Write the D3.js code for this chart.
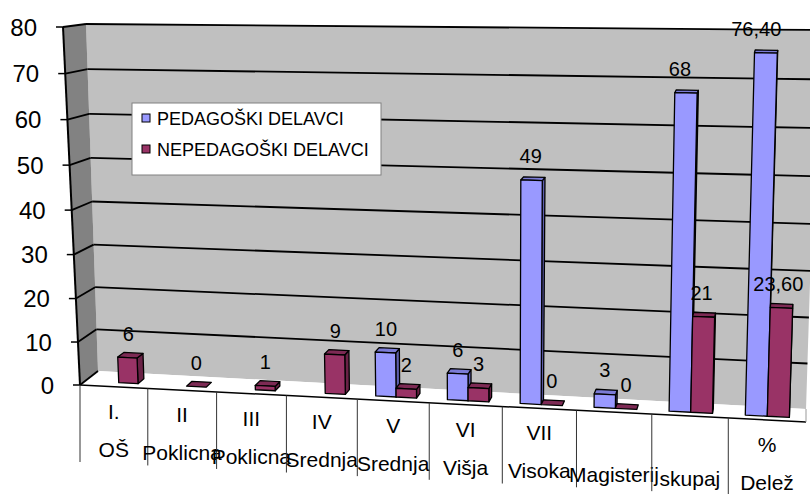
<!DOCTYPE html>
<html>
<head>
<meta charset="utf-8">
<script src="https://cdn.jsdelivr.net/npm/d3@7"></script>
<style>
  body { margin: 0; background: #fff; }
  text { font-family: "Liberation Sans", Arial, sans-serif; fill: #000; }
</style>
</head>
<body>
<svg id="chart" width="810" height="494"></svg>
<script>
const categoriesTop = ["I.", "II", "III", "IV", "V", "VI", "VII", "", "", "%"];
const categoriesBottom = ["OŠ", "Poklicna", "Poklicna", "Srednja", "Srednja", "Višja", "Visoka", "Magisterij", "skupaj", "Delež"];
const seriesNames = ["PEDAGOŠKI DELAVCI", "NEPEDAGOŠKI DELAVCI"];
const pedagoski = [null, null, null, null, 10, 6, 49, 3, 68, 76.4];
const nepedagoski = [6, 0, 1, 9, 2, 3, 0, 0, 21, 23.6];
const yTicks = [0, 10, 20, 30, 40, 50, 60, 70, 80];

const svg = d3.select("#chart");

// corners of the 3d box on screen (front/back, left/right, bottom/top)
const FLB = [80, 385], FLT = [63, 27], FRB = [806, 422], FRT = [818, 38];
const BLB = [98, 371], BLT = [86, 24], BRB = [806, 409], BRT = [818, 30];

const x = d3.scaleBand().domain(d3.range(categoriesBottom.length)).range([0, 1]);
const xInner = d3.scaleBand().domain(seriesNames).range([0, x.bandwidth()]).paddingOuter(0.75);
const y = d3.scaleLinear().domain([0, 80]).range([0, 1]);

// a bit of perspective foreshortening
const persp = k => t => (1 + k) * t / (1 + k * t);
const px = persp(-0.073), py = persp(-0.045);
const lerp = (p, q, k) => [p[0] + (q[0] - p[0]) * k, p[1] + (q[1] - p[1]) * k];

function proj(u, v, z) {
  const s = px(u), t = py(y(v));
  const front = lerp(lerp(FLB, FRB, s), lerp(FLT, FRT, s), t);
  const back = lerp(lerp(BLB, BRB, s), lerp(BLT, BRT, s), t);
  return lerp(front, back, z);
}
const pts = arr => arr.map(p => p.join(",")).join(" ");

// walls and floor
svg.append("polygon")
  .attr("points", pts([proj(0, 0, 1), proj(0, 80, 1), proj(1, 80, 1), proj(1, 0, 1)]))
  .attr("fill", "#C0C0C0");
svg.append("polygon")
  .attr("points", pts([proj(0, 0, 0), proj(0, 80, 0), proj(0, 80, 1), proj(0, 0, 1)]))
  .attr("fill", "#828282");
svg.append("polygon")
  .attr("points", pts([proj(0, 0, 0), proj(1, 0, 0), proj(1, 0, 1), proj(0, 0, 1)]))
  .attr("fill", "#fff");

// gridlines
const grid = svg.append("g").attr("stroke", "#000").attr("stroke-width", 1.8);
yTicks.forEach(v => {
  const a = proj(0, v, 0), b = proj(0, v, 1), c = proj(1, v, 1);
  grid.append("line").attr("x1", a[0]).attr("y1", a[1]).attr("x2", b[0]).attr("y2", b[1]);
  if (v > 0) grid.append("line").attr("x1", b[0]).attr("y1", b[1]).attr("x2", c[0]).attr("y2", c[1]);
});

// floor edges
const f0 = proj(0, 0, 0), f1 = proj(1, 0, 0), f2 = proj(1, 0, 1);
svg.append("line").attr("x1", f0[0]).attr("y1", f0[1]).attr("x2", f1[0]).attr("y2", f1[1])
  .attr("stroke", "#000").attr("stroke-width", 1.5);
svg.append("line").attr("x1", f1[0]).attr("y1", f1[1]).attr("x2", f2[0]).attr("y2", f2[1])
  .attr("stroke", "#999").attr("stroke-width", 1);

// value axis
const a0 = proj(0, 0, 0), a1 = proj(0, 80, 0);
svg.append("line").attr("x1", a0[0]).attr("y1", a0[1]).attr("x2", a1[0]).attr("y2", a1[1])
  .attr("stroke", "#000").attr("stroke-width", 2);
yTicks.forEach(v => {
  const p = proj(0, v, 0);
  svg.append("line").attr("x1", p[0] - 7).attr("y1", p[1]).attr("x2", p[0]).attr("y2", p[1])
    .attr("stroke", "#000").attr("stroke-width", 1.5);
  svg.append("text").attr("x", p[0] - 26).attr("y", p[1] + 8.5)
    .attr("text-anchor", "end").attr("font-size", 24).text(v);
});

// category table
x.domain().forEach(i => {
  const b = proj(x(i), 0, 0);
  svg.append("line").attr("x1", b[0]).attr("y1", b[1]).attr("x2", b[0]).attr("y2", b[1] + 77)
    .attr("stroke", "#333").attr("stroke-width", 1);
  const c = proj(x(i) + x.bandwidth() / 2, 0, 0);
  svg.append("text").attr("x", c[0]).attr("y", c[1] + 32)
    .attr("text-anchor", "middle").attr("font-size", 21).text(categoriesTop[i]);
  svg.append("text").attr("x", c[0]).attr("y", c[1] + 70)
    .attr("text-anchor", "middle").attr("font-size", 21).text(categoriesBottom[i]);
});

// bars
const series = [
  { name: seriesNames[0], values: pedagoski, front: "#9999FF", top: "#7B7BD6", side: "#5E5EAE" },
  { name: seriesNames[1], values: nepedagoski, front: "#993366", top: "#7D2A54", side: "#6A2246" }
];
const z0 = 0.29, z1 = 0.64;
const barsG = svg.append("g").attr("stroke", "#000").attr("stroke-width", 1.3).attr("stroke-linejoin", "round");
const labels = [];
x.domain().forEach(i => {
  series.forEach(s => {
    const v = s.values[i];
    if (v === null) return;
    const u0 = x(i) + xInner(s.name), u1 = u0 + xInner.bandwidth();
    const P = (u, h, z) => proj(u, h, z);
    const right = [P(u1, 0, z0), P(u1, 0, z1), P(u1, v, z1), P(u1, v, z0)];
    const left = [P(u0, 0, z0), P(u0, 0, z1), P(u0, v, z1), P(u0, v, z0)];
    const top = [P(u0, v, z0), P(u1, v, z0), P(u1, v, z1), P(u0, v, z1)];
    const front = [P(u0, 0, z0), P(u1, 0, z0), P(u1, v, z0), P(u0, v, z0)];
    const side = P(u1, 0, z1)[0] >= P(u1, 0, z0)[0] ? right : left;
    if (v > 0) barsG.append("polygon").attr("points", pts(side)).attr("fill", s.side);
    barsG.append("polygon").attr("points", pts(top)).attr("fill", s.top);
    if (v > 0) barsG.append("polygon").attr("points", pts(front)).attr("fill", s.front);
    const um = (u0 + u1) / 2;
    labels.push({ x: P(um, 0, z0)[0], y: P(um, v, z0)[1] - 17, v });
  });
});

const fmt = v => Number.isInteger(v) ? String(v) : v.toFixed(2).replace(".", ",");
svg.append("g").selectAll("text").data(labels).join("text")
  .attr("x", d => d.x).attr("y", d => d.y)
  .attr("text-anchor", "middle").attr("font-size", 20)
  .text(d => fmt(d.v));

// legend
const lg = svg.append("g").attr("transform", "translate(132,103)");
lg.append("rect").attr("width", 249).attr("height", 72).attr("fill", "#fff")
  .attr("stroke", "#808080").attr("stroke-width", 1);
series.forEach((s, k) => {
  const cy = 15 + k * 31;
  lg.append("rect").attr("x", 10).attr("y", cy - 4).attr("width", 8).attr("height", 8)
    .attr("fill", s.front).attr("stroke", "#000").attr("stroke-width", 1);
  lg.append("text").attr("x", 25).attr("y", cy + 6.5).attr("font-size", 18).text(s.name);
});
</script>
</body>
</html>
